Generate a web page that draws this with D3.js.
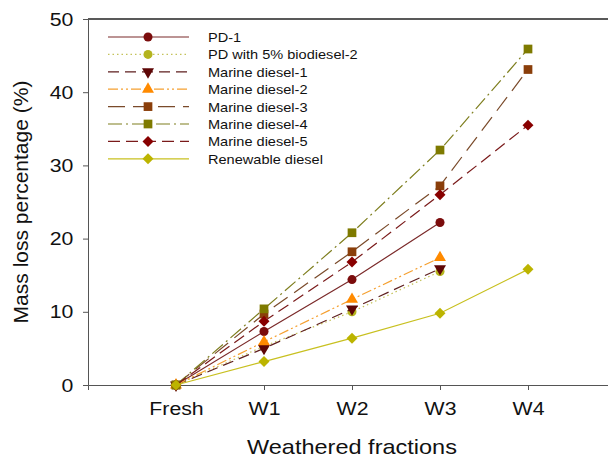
<!DOCTYPE html>
<html>
<head>
<meta charset="utf-8">
<script src="https://cdn.jsdelivr.net/npm/d3@7"></script>
<style>
  body { margin: 0; background: #fff; }
  svg { display: block; font-family: "Liberation Sans", Arial, sans-serif; }
  .axis path, .axis line { stroke: #555; }
  .axis text { fill: #111; }
</style>
</head>
<body>
<div id="chart"></div>
<script>
var categories = ["Fresh", "W1", "W2", "W3", "W4"]
var seriesNames = ["PD-1", "PD with 5% biodiesel-2", "Marine diesel-1", "Marine diesel-2",
                   "Marine diesel-3", "Marine diesel-4", "Marine diesel-5", "Renewable diesel"]
var pd1 = [0, 7.3, 14.4, 22.2]
var pd5 = [0, 5.3, 10.0, 15.5]
var md1 = [0, 5.0, 10.4, 15.9]
var md2 = [0, 5.9, 11.7, 17.4]
var md3 = [0, 9.7, 18.2, 27.2, 43.1]
var md4 = [0, 10.4, 20.8, 32.1, 45.9]
var md5 = [0, 8.7, 16.8, 26.0, 35.5]
var rd = [0, 3.2, 6.4, 9.8, 15.8]
var yTicks = [0, 10, 20, 30, 40, 50]

var values = [pd1, pd5, md1, md2, md3, md4, md5, rd]

// styling per series
var styles = [
  { line: "#7b2a2a", fill: "#7b0c0c", dash: null, sym: "circle" },
  { line: "#c4c25a", fill: "#b4b41e", dash: "1.5,3", sym: "circle" },
  { line: "#5e1e1e", fill: "#5e0606", dash: "11,6", sym: "down" },
  { line: "#f5a030", fill: "#ff8a00", dash: "10,3,2,3,2,3", sym: "up" },
  { line: "#7a4a2a", fill: "#8a3e0a", dash: "17,8", sym: "square" },
  { line: "#7e7e1e", fill: "#7e7a00", dash: "14,4,2,4", sym: "square" },
  { line: "#7a1a1a", fill: "#880000", dash: "12,6", sym: "diamond" },
  { line: "#c8c020", fill: "#bcb400", dash: null, sym: "diamond" }
]

var width = 608, height = 459
var plotLeft = 88, plotRight = 616, plotTop = 19, plotBottom = 385
var sx = 1.12 // text in the figure is a bit wider than plain Arial

var svg = d3.select("#chart").append("svg")
  .attr("width", width)
  .attr("height", height)

var x = d3.scalePoint()
  .domain(categories)
  .range([plotLeft, plotRight])
  .padding(1)

var y = d3.scaleLinear()
  .domain([0, 50])
  .range([plotBottom, plotTop])

function symbolPath(type) {
  if (type == "circle") return d3.symbol().type(d3.symbolCircle).size(64)()
  if (type == "square") return d3.symbol().type(d3.symbolSquare).size(76)()
  if (type == "diamond") return d3.symbol().type(d3.symbolSquare).size(60)()
  return d3.symbol().type(d3.symbolTriangle).size(62)()
}
function symbolRotate(type) {
  if (type == "diamond") return 45
  if (type == "down") return 180
  return 0
}

// top frame line
svg.append("line")
  .attr("x1", plotLeft).attr("x2", plotRight)
  .attr("y1", plotTop).attr("y2", plotTop)
  .attr("stroke", "#222").attr("stroke-width", 1.3)

var xAxis = svg.append("g")
  .attr("class", "axis")
  .attr("transform", "translate(0," + plotBottom + ")")
  .call(d3.axisBottom(x).tickSizeOuter(0).tickSize(5).tickPadding(12))
xAxis.selectAll("text")
  .attr("font-size", 19)
  .attr("transform", "scale(" + sx + ",1)")
xAxis.select(".domain").attr("stroke", "#444")

var yAxis = svg.append("g")
  .attr("class", "axis")
  .attr("transform", "translate(" + plotLeft + ",0)")
  .call(d3.axisLeft(y).tickValues(yTicks).tickSizeOuter(0).tickSize(5).tickPadding(8))
yAxis.selectAll("text")
  .attr("font-size", 19)
  .attr("transform", "scale(" + sx + ",1)")
yAxis.select(".domain").attr("stroke", "#444")

// axis titles
svg.append("text")
  .attr("transform", "translate(" + (plotLeft + plotRight) / 2 + ",454) scale(" + sx + ",1)")
  .attr("text-anchor", "middle")
  .attr("font-size", 21)
  .attr("fill", "#111")
  .text("Weathered fractions")

svg.append("text")
  .attr("transform", "translate(28," + (plotTop + plotBottom) / 2 + ") rotate(-90)")
  .attr("text-anchor", "middle")
  .attr("font-size", 21)
  .attr("fill", "#111")
  .text("Mass loss percentage (%)")

var line = d3.line()
  .x(function(d, i) { return x(categories[i]) })
  .y(function(d) { return y(d) })

var series = svg.selectAll(".series")
  .data(values)
  .enter().append("g")
  .attr("class", "series")

series.append("path")
  .attr("d", function(d) { return line(d) })
  .attr("fill", "none")
  .attr("stroke", function(d, i) { return styles[i].line })
  .attr("stroke-width", 1.2)
  .attr("stroke-dasharray", function(d, i) { return styles[i].dash })

series.each(function(d, i) {
  d3.select(this).selectAll(".mark")
    .data(d)
    .enter().append("path")
    .attr("class", "mark")
    .attr("d", symbolPath(styles[i].sym))
    .attr("fill", styles[i].fill)
    .attr("transform", function(v, j) {
      return "translate(" + x(categories[j]) + "," + y(v) + ") rotate(" + symbolRotate(styles[i].sym) + ")"
    })
})

// legend
var legend = svg.append("g")
  .attr("transform", "translate(108,37)")

var rows = legend.selectAll(".row")
  .data(seriesNames)
  .enter().append("g")
  .attr("class", "row")
  .attr("transform", function(d, i) { return "translate(0," + i * 17.4 + ")" })

rows.append("line")
  .attr("x1", 0).attr("x2", 81)
  .attr("stroke", function(d, i) { return styles[i].line })
  .attr("stroke-width", 1.2)
  .attr("stroke-dasharray", function(d, i) { return styles[i].dash })

rows.append("path")
  .attr("d", function(d, i) { return symbolPath(styles[i].sym) })
  .attr("fill", function(d, i) { return styles[i].fill })
  .attr("transform", function(d, i) { return "translate(40,0) rotate(" + symbolRotate(styles[i].sym) + ")" })

rows.append("text")
  .attr("transform", "translate(100,5) scale(" + sx + ",1)")
  .attr("font-size", 13)
  .attr("fill", "#111")
  .text(function(d) { return d })
</script>
</body>
</html>
